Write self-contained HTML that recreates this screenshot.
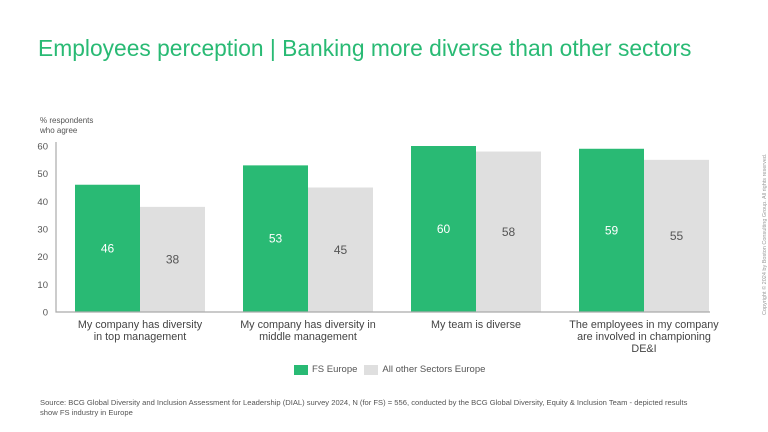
<!DOCTYPE html>
<html><head><meta charset="utf-8"><style>
body{margin:0;background:#fff;font-family:"Liberation Sans",sans-serif;}
#wrap{position:relative;width:768px;height:432px;overflow:hidden;}
.t{position:absolute;white-space:nowrap;}
</style></head><body>
<div id="wrap">
<div class="t" style="left:38px;top:35px;font-size:22.8px;color:#29BA74;">Employees perception | Banking more diverse than other sectors</div>
<div class="t" style="left:40px;top:116px;font-size:8px;line-height:10px;color:#555;">% respondents<br>who agree</div>
<svg id="chart" width="768" height="432" style="position:absolute;left:0;top:0"></svg>
<div class="t" style="left:294px;top:364px;font-size:9.5px;color:#555;display:flex;align-items:center;">
<span style="width:14px;height:10px;background:#29BA74;display:inline-block;margin-right:4px"></span><span>FS Europe</span>
<span style="width:14px;height:10px;background:#DFDFDF;display:inline-block;margin:0 4px 0 7px"></span><span>All other Sectors Europe</span></div>
<div class="t" style="left:40px;top:398px;font-size:7.6px;line-height:9.5px;color:#555;white-space:normal;width:660px;">Source: BCG Global Diversity and Inclusion Assessment for Leadership (DIAL) survey 2024, N (for FS) = 556, conducted by the BCG Global Diversity, Equity &amp; Inclusion Team - depicted results show FS industry in Europe</div>
<div class="t" style="left:762px;top:315px;font-size:5.5px;color:#999;transform:rotate(-90deg);transform-origin:0 0;">Copyright © 2024 by Boston Consulting Group. All rights reserved.</div>
</div>
<script>
const categories=["My company has diversity|in top management","My company has diversity in|middle management","My team is diverse","The employees in my company|are involved in championing|DE&I"];
const fsValues=[46,53,60,59];
const otherValues=[38,45,58,55];
const yTicks=[0,10,20,30,40,50,60];
const svg=document.getElementById('chart');const NS='http://www.w3.org/2000/svg';
const x0=56,x1=710,y0=312,y1=146,yMax=60;
const y=v=>y0-(y0-y1)*v/yMax;
const gw=168;const bw=65;
const xc=i=>140+gw*i;
function mk(t,a,txt){const e=document.createElementNS(NS,t);for(const k in a)e.setAttribute(k,a[k]);if(txt!==undefined)e.textContent=txt;svg.appendChild(e);return e;}
yTicks.forEach(v=>{const e=mk('text',{x:48,y:y(v)+3.5,'text-anchor':'end','font-size':9.5,fill:'#555'},v);

});
categories.forEach((c,i)=>{
const g=mk('rect',{x:xc(i)-bw,y:y(fsValues[i]),width:bw,height:y0-y(fsValues[i]),fill:'#29BA74'});


const o=mk('rect',{x:xc(i),y:y(otherValues[i]),width:bw,height:y0-y(otherValues[i]),fill:'#DFDFDF'});


const l1=mk('text',{x:xc(i)-bw/2,y:(y(fsValues[i])+y0)/2+4,'text-anchor':'middle','font-size':12,fill:'#fff'},fsValues[i]);


const l2=mk('text',{x:xc(i)+bw/2,y:(y(otherValues[i])+y0)/2+4,'text-anchor':'middle','font-size':12,fill:'#555'},otherValues[i]);


c.split('|').forEach((ln,j)=>{const t=mk('text',{x:xc(i),y:328+j*12,'text-anchor':'middle','font-size':10.8,fill:'#444'},ln);

});
});
const ax=mk('polyline',{points:`${x0},${y1-4} ${x0},${y0} ${x1},${y0}`,fill:'none',stroke:'#aaa','stroke-width':1.2});


</script>
</body></html>
